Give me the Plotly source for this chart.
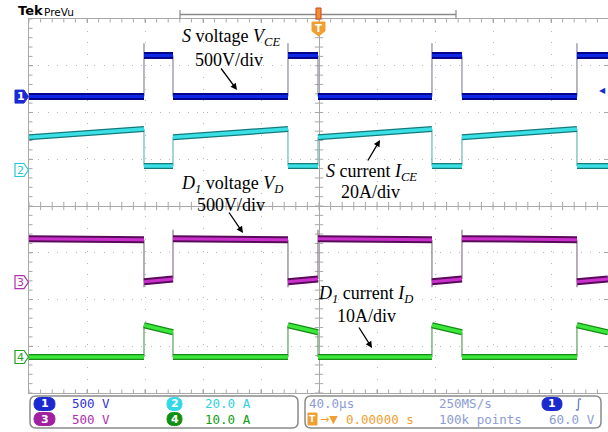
import numpy as np
import plotly.graph_objects as go

# ---------------- data ----------------
# segment boundaries in microseconds (40 us/div, trigger at centre)
time_bounds = [-200.0, -120.7, -100.7, -21.4, -0.7, 77.9, 98.6, 177.9, 199.3]

# Ch1: switch voltage V_CE (V)
vce_start = [0, 440, 0, 440, 0, 440, 0, 440]
vce_end = [0, 440, 0, 440, 0, 440, 0, 440]
vce_edge_peak = [570, None, 570, None, 570, None, 570]

# Ch2: switch current I_CE (A)
ice_start = [14.0, 1.7, 14.0, 1.7, 14.0, 1.7, 14.0, 1.7]
ice_end = [17.5, 1.7, 17.5, 1.7, 17.5, 1.7, 17.5, 1.7]
ice_edge_peak = [None, None, None, None, None, None, None]

# Ch3: diode voltage V_D (V)
vd_start = [465, 5, 465, 5, 465, 5, 465, 5]
vd_end = [455, 35, 455, 35, 455, 35, 455, 35]
vd_edge_peak = [-55, 560, -55, 560, -55, 560, -55]

# Ch4: diode current I_D (A)
id_start = [0, 6.8, 0, 6.8, 0, 6.8, 0, 6.8]
id_end = [0, 5.3, 0, 5.3, 0, 5.3, 0, 5.3]
id_edge_peak = [None, None, None, None, None, None, None]

ch_scale = [500, 20, 500, 10]               # units per division
ch_offset_div = [2.34, 0.77, -1.63, -3.23]  # ground marker position (div)
ch1_trigger_level = 60.0

# ---------------- geometry ----------------
FW, FH = 608, 432
L, T, W, H = 29, 19, 579, 374
DIVX = 58.0
DIVY = H / 8.0
xrange_ = [-200.0, -200.0 + W / DIVX * 40.0]


def X(px):
    return (px - L) / W


def Y(py):
    return (T + H - py) / H


fig = go.Figure()
line_c = "#a8a8a8"
grid_c = "#b8b8b8"

# ---------------- graticule ticks (centre cross + border minor ticks) ----------------
tx = np.arange(-200, 200, 8.0)
ty = np.arange(-4, 4.01, 0.2)
fig.add_trace(go.Scatter(x=tx, y=np.zeros_like(tx), mode="markers",
                         marker=dict(symbol="line-ns", size=6,
                                     line=dict(color=line_c, width=1)),
                         hoverinfo="skip", showlegend=False))
fig.add_trace(go.Scatter(x=np.zeros_like(ty), y=ty, mode="markers",
                         marker=dict(symbol="line-ew", size=6,
                                     line=dict(color=line_c, width=1)),
                         hoverinfo="skip", showlegend=False))
for yb in (-4, 4):
    fig.add_trace(go.Scatter(x=tx, y=np.full_like(tx, yb), mode="markers",
                             marker=dict(symbol="line-ns", size=5,
                                         line=dict(color=line_c, width=1)),
                             hoverinfo="skip", showlegend=False))
fig.add_trace(go.Scatter(x=np.full_like(ty, xrange_[0]), y=ty, mode="markers",
                         marker=dict(symbol="line-ew", size=5,
                                     line=dict(color=line_c, width=1)),
                         hoverinfo="skip", showlegend=False))

# ---------------- waveform traces ----------------
channels = [
    (vce_start, vce_end, vce_edge_peak, "#00008c", "#0a28e6", "#8a8aa0", 7, 3),
    (ice_start, ice_end, ice_edge_peak, "#127a7a", "#3ae0e6", "#6ab8b8", 6, 3.5),
    (vd_start, vd_end, vd_edge_peak, "#5a0a5a", "#cc30cc", "#8a7a8a", 7, 3),
    (id_start, id_end, id_edge_peak, "#148c14", "#3ce63c", "#5aa05a", 6, 3.5),
]

for k, (st, en, pk, dark, core, edgec, wd, wc) in enumerate(channels):
    yref = "y%d" % (k + 2)
    bx, by = [], []
    for i in range(len(st)):
        bx += [time_bounds[i], time_bounds[i + 1], None]
        by += [st[i], en[i], None]
    ex, ey = [], []
    for i in range(len(st) - 1):
        t = time_bounds[i + 1]
        if pk[i] is None:
            ex += [t, t, None]
            ey += [en[i], st[i + 1], None]
        else:
            ex += [t, t, t, None]
            ey += [en[i], pk[i], st[i + 1], None]
    fig.add_trace(go.Scatter(x=ex, y=ey, mode="lines", yaxis=yref,
                             line=dict(color=edgec, width=1.2),
                             hoverinfo="skip", showlegend=False))
    fig.add_trace(go.Scatter(x=bx, y=by, mode="lines", yaxis=yref,
                             line=dict(color=dark, width=wd),
                             hoverinfo="skip", showlegend=False))
    fig.add_trace(go.Scatter(x=bx, y=by, mode="lines", yaxis=yref,
                             line=dict(color=core, width=wc),
                             hoverinfo="skip", showlegend=False))

# ---------------- axes ----------------
layout = dict(
    width=FW, height=FH,
    margin=dict(l=L, r=FW - L - W, t=T, b=FH - T - H, pad=0),
    paper_bgcolor="white", plot_bgcolor="white",
    showlegend=False,
    xaxis=dict(range=xrange_, dtick=40, tick0=0, showgrid=True,
               gridcolor=grid_c, griddash="1px,10.6px", gridwidth=1,
               zeroline=True, zerolinecolor=line_c, zerolinewidth=1,
               showline=True, linecolor=line_c, linewidth=1, mirror="ticks",
               ticks="inside", ticklen=4, tickcolor=line_c,
               showticklabels=False, fixedrange=True),
    yaxis=dict(range=[-4, 4], dtick=1, tick0=0, showgrid=True,
               gridcolor=grid_c, griddash="1px,8.35px", gridwidth=1,
               zeroline=True, zerolinecolor=line_c, zerolinewidth=1,
               showline=True, linecolor=line_c, linewidth=1, mirror="ticks",
               ticks="inside", ticklen=4, tickcolor=line_c,
               showticklabels=False, fixedrange=True),
)
for k in range(4):
    s, o = ch_scale[k], ch_offset_div[k]
    layout["yaxis%d" % (k + 2)] = dict(overlaying="y", anchor="x",
                                      showgrid=False, zeroline=False,
                                      showline=False, ticks="",
                                      showticklabels=False,
                                      range=[(-4 - o) * s, (4 - o) * s],
                                      fixedrange=True)
fig.update_layout(**layout)

shapes = []
ann = []


def path_from(points, closed=True):
    p = "M %f,%f" % (X(points[0][0]), Y(points[0][1]))
    for (a, b) in points[1:]:
        p += " L %f,%f" % (X(a), Y(b))
    return p + (" Z" if closed else "")


def rrect(x0, y0, x1, y1, r):
    def P(a, b):
        return "%f,%f" % (X(a), Y(b))
    p = "M " + P(x0 + r, y0) + " L " + P(x1 - r, y0)
    p += " Q " + P(x1, y0) + " " + P(x1, y0 + r)
    p += " L " + P(x1, y1 - r) + " Q " + P(x1, y1) + " " + P(x1 - r, y1)
    p += " L " + P(x0 + r, y1) + " Q " + P(x0, y1) + " " + P(x0, y1 - r)
    p += " L " + P(x0, y0 + r) + " Q " + P(x0, y0) + " " + P(x0 + r, y0) + " Z"
    return p


def text(px, py, s, size, color, family="DejaVu Sans Mono", xanchor="left"):
    ann.append(dict(x=X(px), y=Y(py), xref="paper", yref="paper", text=s,
                    showarrow=False, xanchor=xanchor, yanchor="middle",
                    font=dict(family=family, size=size, color=color)))


# Channel ground markers on the left
marker_cols = ["#1a2ad0", "#28c8d8", "#b030b0", "#22a022"]
for k in range(4):
    c = T + H / 2 - ch_offset_div[k] * DIVY
    pts = [(15, c - 6.5), (24, c - 6.5), (28.5, c), (24, c + 6.5), (15, c + 6.5)]
    if k == 0:
        shapes.append(dict(type="path", path=path_from(pts), xref="paper",
                           yref="paper", fillcolor=marker_cols[k],
                           line=dict(color=marker_cols[k], width=1)))
        text(20.5, c, "<b>1</b>", 11, "white", "DejaVu Sans", "center")
    else:
        shapes.append(dict(type="path", path=path_from(pts), xref="paper",
                           yref="paper", fillcolor="white",
                           line=dict(color=marker_cols[k], width=1.2)))
        text(20.5, c, str(k + 1), 11, marker_cols[k], "DejaVu Sans", "center")

# ch1 trigger level marker on the right
trig_py = T + H / 2 - (ch_offset_div[0] + ch1_trigger_level / ch_scale[0]) * DIVY
text(608, trig_py, "◀", 8, "#1a2ad0", "DejaVu Sans", "right")

# top header
text(16, 11, "<b>Tek</b>", 13, "black", "DejaVu Sans")
text(42, 11.5, "PreVu", 10.5, "black", "DejaVu Sans")
shapes.append(dict(type="line", xref="paper", yref="paper", x0=X(180), x1=X(456),
                   y0=Y(14.5), y1=Y(14.5), line=dict(color="#8a8a8a", width=1.5)))
for xe in (180, 456):
    shapes.append(dict(type="line", xref="paper", yref="paper", x0=X(xe), x1=X(xe),
                       y0=Y(10), y1=Y(19), line=dict(color="#8a8a8a", width=1.2)))
shapes.append(dict(type="rect", xref="paper", yref="paper", x0=X(316), x1=X(321),
                   y0=Y(19), y1=Y(8), fillcolor="#f09030",
                   line=dict(color="#d04020", width=1)))
shapes.append(dict(type="path", xref="paper", yref="paper",
                   path=path_from([(312, 22), (325, 22), (325, 31), (318.5, 36), (312, 31)]),
                   fillcolor="#f0a030", line=dict(color="#f0a030", width=1)))
text(318.5, 28.5, "<b>T</b>", 10, "white", "DejaVu Sans", "center")

# annotations in serif
SERIF = "Liberation Serif"
text(231, 38, "<i>S</i> voltage <i>V</i><sub><i>CE</i></sub>", 18, "black", SERIF, "center")
text(229, 60, "500V/div", 18, "black", SERIF, "center")
text(371, 172, "<i>S</i> current <i>I</i><sub><i>CE</i></sub>", 18, "black", SERIF, "center")
text(370, 192, "20A/div", 18, "black", SERIF, "center")
text(232, 184, "<i>D</i><sub><i>1</i></sub> voltage <i>V</i><sub><i>D</i></sub>", 18, "black", SERIF, "center")
text(231, 205, "500V/div", 18, "black", SERIF, "center")
text(365, 294, "<i>D</i><sub><i>1</i></sub> current <i>I</i><sub><i>D</i></sub>", 18, "black", SERIF, "center")
text(366, 316, "10A/div", 18, "black", SERIF, "center")

for (ax0, ay0, hx, hy) in [(220, 67, 237, 90), (367, 162, 380, 140),
                           (228, 211, 243, 233), (358, 326, 372, 348)]:
    ann.append(dict(x=X(hx), y=Y(hy), xref="paper", yref="paper", text="",
                    showarrow=True, ax=ax0 - hx, ay=ay0 - hy, axref="pixel",
                    ayref="pixel", arrowhead=2, arrowsize=1, arrowwidth=1.3,
                    arrowcolor="black", standoff=0))

# bottom info boxes
shapes.append(dict(type="path", xref="paper", yref="paper",
                   path=rrect(30, 396, 298, 428, 6), fillcolor="white",
                   line=dict(color="#8a8a8a", width=1.5)))
shapes.append(dict(type="path", xref="paper", yref="paper",
                   path=rrect(305, 396, 601, 428, 6), fillcolor="white",
                   line=dict(color="#8a8a8a", width=1.5)))

R1, R2 = 404, 419
badges = [(34, 55, R1, "#1a2ad0", "1"), (167, 182, R1, "#30d8e8", "2"),
          (34, 55, R2, "#a020a0", "3"), (167, 182, R2, "#109010", "4"),
          (542, 562, R1, "#1a2ad0", "1")]
for (x0, x1, cy, col, lab) in badges:
    shapes.append(dict(type="path", xref="paper", yref="paper",
                       path=rrect(x0, cy - 6.5, x1, cy + 6.5, 6.5),
                       fillcolor=col, line=dict(color=col, width=1)))
    text((x0 + x1) / 2, cy, "<b>%s</b>" % lab, 11, "white", "DejaVu Sans", "center")

text(70, R1, "500 V", 12.5, "#3030e0")
text(70, R2, "500 V", 12.5, "#b030b0")
text(203, R1, "20.0 A", 12.5, "#30d0e0")
text(203, R2, "10.0 A", 12.5, "#10a010")

slate = "#8c9cd4"
text(307, R1, "40.0µs", 12.5, slate)
text(437, R1, "250MS/s", 12.5, slate)
text(437, R2, "100k points", 12.5, slate)
text(547, R2, "60.0 V", 12.5, slate)
text(578, R1, "<i>∫</i>", 13, "#5868b8", "DejaVu Sans", "center")
shapes.append(dict(type="rect", xref="paper", yref="paper", x0=X(308), x1=X(317),
                   y0=Y(425), y1=Y(413), fillcolor="#f0a030",
                   line=dict(color="#f0a030", width=1)))
text(312.5, R2, "<b>T</b>", 9, "white", "DejaVu Sans", "center")
text(318, R2, "→▼", 11, "#f0a030", "DejaVu Sans")
text(344, R2, "0.00000 s", 12.5, "#f0a030")

fig.update_layout(shapes=shapes, annotations=ann)
fig.write_html("out.html",
               config={"displayModeBar": False},
               post_script="document.body.style.margin='0px';"
                           "document.body.style.padding='0px';"
                           "document.body.style.overflow='hidden';")
